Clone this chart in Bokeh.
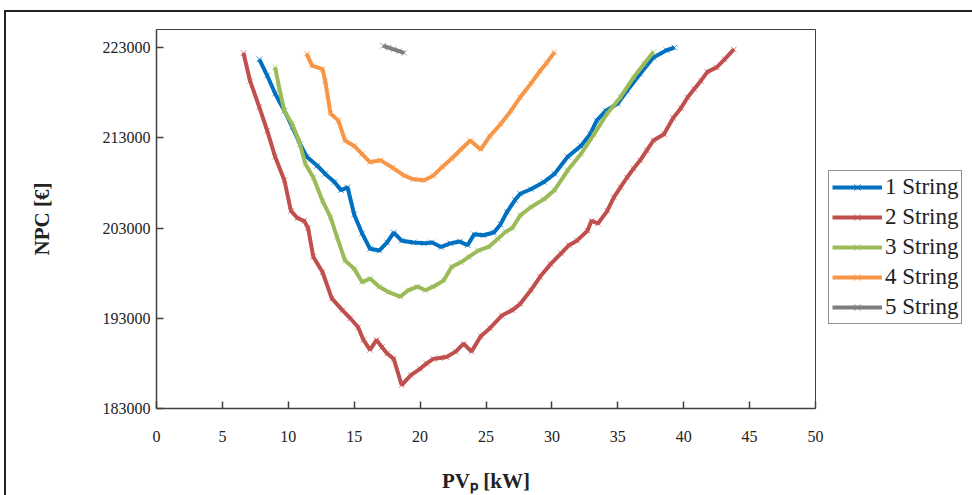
from bokeh.plotting import figure
from bokeh.models import FixedTicker, Legend, LegendItem
from bokeh.embed import file_html
from bokeh.resources import INLINE

x_ticks = [0, 5, 10, 15, 20, 25, 30, 35, 40, 45, 50]
y_ticks = [183000, 193000, 203000, 213000, 223000]

s1_x = [7.8, 8.4, 9.0, 9.7, 10.3, 10.9, 11.4, 12.2, 12.8, 13.5, 14.0, 14.5, 15.0, 15.6, 16.2,
        16.9, 17.5, 18.0, 18.6, 19.5, 20.3, 20.9, 21.6, 22.3, 23.0, 23.6, 24.1, 24.8, 25.6, 26.1,
        26.6, 27.2, 27.6, 28.4, 29.4, 30.2, 31.2, 32.2, 32.9, 33.4, 34.1, 35.0, 35.7, 36.7, 37.7,
        38.7, 39.3]
s1_y = [221700, 219900, 217900, 216000, 214200, 212300, 210900, 209900, 209000, 208100,
        207200, 207500, 204500, 202400, 200700, 200500, 201400, 202500, 201600, 201400,
        201300, 201400, 200900, 201300, 201500, 201100, 202300, 202200, 202500, 203400,
        204800, 206100, 206800, 207300, 208100, 209000, 210900, 212100, 213400, 214900,
        216000, 216800, 218200, 220100, 221900, 222700, 223000]

s2_x = [6.6, 7.1, 7.8, 8.4, 9.0, 9.7, 10.2, 10.7, 11.2, 11.5, 11.9, 12.6, 13.3, 14.1, 14.7,
        15.3, 15.7, 16.2, 16.7, 17.1, 17.5, 18.0, 18.6, 19.3, 20.0, 20.5, 21.0, 21.5, 22.0, 22.7,
        23.3, 23.9, 24.6, 25.3, 26.2, 27.0, 27.6, 28.4, 29.1, 29.9, 30.7, 31.3, 31.9, 32.7, 33.0,
        33.5, 34.2, 34.7, 35.2, 35.7, 36.2, 36.7, 37.2, 37.7, 38.5, 39.2, 39.8, 40.3, 40.8, 41.3,
        41.8, 42.5, 43.1, 43.8]
s2_y = [222400, 219300, 216400, 213800, 210900, 208300, 204900, 204100, 203800, 203000,
        199800, 198100, 195200, 193900, 193000, 192000, 190600, 189500, 190600, 189800,
        189100, 188500, 185600, 186700, 187400, 188000, 188500, 188600, 188700, 189300,
        190200, 189300, 191000, 191900, 193300, 193900, 194600, 196100, 197600, 199000,
        200200, 201100, 201600, 202700, 203800, 203500, 204900, 206400, 207500, 208600,
        209600, 210500, 211600, 212700, 213400, 215200, 216300, 217500, 218400, 219300,
        220300, 220800, 221700, 222800]

s3_x = [9.0, 9.3, 9.7, 10.3, 10.8, 11.3, 11.9, 12.6, 13.2, 13.7, 14.3, 15.0, 15.6, 16.2, 16.9,
        17.6, 18.5, 19.1, 19.8, 20.4, 21.0, 21.8, 22.4, 23.1, 23.7, 24.4, 25.2, 25.9, 26.5, 27.0,
        27.6, 28.4, 29.4, 30.2, 31.2, 32.2, 33.2, 34.2, 35.2, 36.2, 37.0, 37.7]
s3_y = [220800, 218600, 216000, 214500, 212700, 210100, 208600, 206000, 204200, 202000,
        199400, 198500, 197000, 197400, 196500, 195900, 195400, 196100, 196500, 196100,
        196500, 197200, 198700, 199200, 199800, 200500, 200900, 201800, 202600, 203000,
        204400, 205300, 206200, 207200, 209400, 211200, 213400, 215700, 217500, 219700,
        221200, 222500]

s4_x = [11.4, 11.8, 12.6, 12.8, 13.2, 13.8, 14.3, 15.0, 15.6, 16.2, 17.0, 17.9, 18.8, 19.5,
        20.3, 21.0, 21.7, 22.4, 23.1, 23.8, 24.6, 25.3, 26.1, 26.9, 27.6, 28.4, 29.1, 29.6, 30.2]
s4_y = [222300, 221000, 220600, 219300, 215700, 214900, 212700, 212100, 211200, 210300,
        210500, 209700, 208800, 208400, 208300, 208800, 209800, 210700, 211700, 212700,
        211700, 213200, 214500, 216000, 217500, 219000, 220400, 221300, 222500]

s5_x = [17.2, 17.6, 18.0, 18.4, 18.8]
s5_y = [223200, 223000, 222800, 222600, 222400]

series_names = ["1 String", "2 String", "3 String", "4 String", "5 String"]
series_colors = ["#0070C0", "#C0504D", "#9BBB59", "#F79646", "#7F7F7F"]
series_data = [(s1_x, s1_y), (s2_x, s2_y), (s3_x, s3_y), (s4_x, s4_y), (s5_x, s5_y)]

SERIF = "Liberation Serif"

p = figure(frame_width=659, frame_height=379, x_range=(0, 50), y_range=(183000, 225000),
           output_backend="svg", toolbar_location=None,
           min_border_left=150, min_border_top=17, min_border_right=157, min_border_bottom=87)
p.styles = {"margin-left": "4px", "margin-top": "10px",
            "border-left": "2px solid #222222", "border-top": "2px solid #222222"}
p.background_fill_color = "white"
p.border_fill_color = "white"
p.outline_line_color = "#404040"
p.outline_line_width = 1
p.xgrid.visible = False
p.ygrid.visible = False

items = []
for name, col, (xs, ys) in zip(series_names, series_colors, series_data):
    r1 = p.line(xs, ys, line_color=col, line_width=4)
    r2 = p.scatter(xs, ys, marker="x", size=8, line_color=col, line_width=1, line_alpha=0.7)
    items.append(LegendItem(label=name, renderers=[r1, r2]))

for ax in (p.xaxis[0], p.yaxis[0]):
    ax.axis_line_color = "#404040"
    ax.axis_line_width = 1.5
    ax.major_tick_line_color = "#404040"
    ax.major_tick_line_width = 1.5
    ax.major_tick_in = 7
    ax.major_tick_out = 0
    ax.minor_tick_line_color = None
    ax.major_label_text_font = SERIF
    ax.major_label_text_font_size = "16px"
    ax.major_label_text_color = "#222222"
    ax.axis_label_text_font = SERIF
    ax.axis_label_text_font_size = "21px"
    ax.axis_label_text_font_style = "bold"
    ax.axis_label_text_color = "#222222"

p.xaxis.ticker = FixedTicker(ticks=x_ticks)
p.yaxis.ticker = FixedTicker(ticks=y_ticks)
p.yaxis.major_label_overrides = {v: str(v) for v in y_ticks}
p.xaxis.major_label_standoff = 22
p.yaxis.major_label_standoff = 6
p.xaxis.axis_label = "PVₚ [kW]"
p.yaxis.axis_label = "NPC [€]"
p.xaxis.axis_label_standoff = 24
p.yaxis.axis_label_standoff = 46

legend = Legend(items=items, location=(13, 84))
legend.border_line_color = "#222222"
legend.border_line_width = 1.5
legend.label_text_font = SERIF
legend.label_text_font_size = "23px"
legend.label_text_color = "#222222"
legend.glyph_width = 50
legend.glyph_height = 24
legend.label_height = 24
legend.label_standoff = 3
legend.spacing = 4
legend.padding = 3
legend.margin = 0
legend.background_fill_color = "white"
p.add_layout(legend, "right")

open("out.html", "w").write(file_html(p, INLINE))
